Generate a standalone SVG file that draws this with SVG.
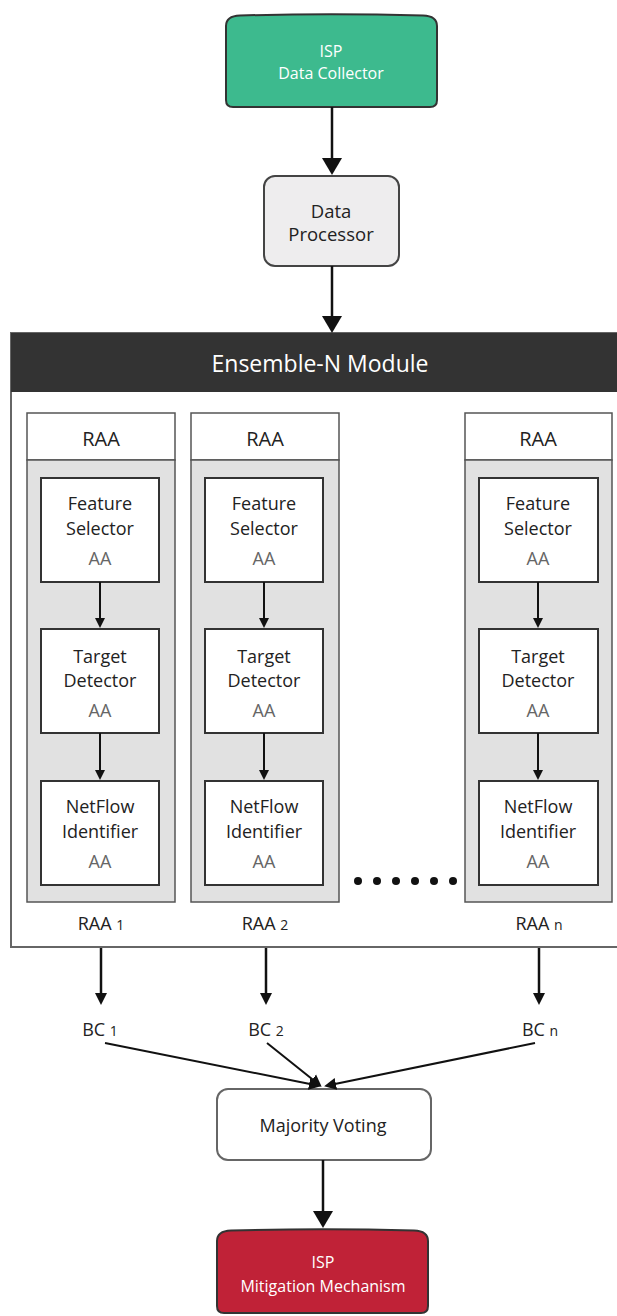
<svg xmlns="http://www.w3.org/2000/svg" width="617" height="1316" viewBox="0 0 617 1316">
<style>
text{font-family:"Open Sans","Liberation Sans",sans-serif;text-anchor:middle;fill:#222}
.w{fill:#fff}
.aa{fill:#666}
.hdr{fill:#fff;stroke:#555;stroke-width:1.5}
.body{fill:#e1e1e1;stroke:#555;stroke-width:1.5}
.inner{fill:#fff;stroke:#333;stroke-width:2}
.conn{stroke:#111;stroke-width:2.5;fill:none}
.thin{stroke:#111;stroke-width:2;fill:none}
.dot{fill:#111}
</style>
<defs>
<marker id="big" markerUnits="userSpaceOnUse" markerWidth="18" markerHeight="22" viewBox="0 0 18 22" refX="8" refY="11" orient="auto"><path d="M0,1 L17,11 L0,21 z" fill="#111"/></marker>
<marker id="mid" markerUnits="userSpaceOnUse" markerWidth="13" markerHeight="14" viewBox="0 0 13 14" refX="6" refY="7" orient="auto"><path d="M0,1 L12,7 L0,13 z" fill="#111"/></marker>
<marker id="sm" markerUnits="userSpaceOnUse" markerWidth="11" markerHeight="12" viewBox="0 0 11 12" refX="5" refY="6" orient="auto"><path d="M0,1 L10,6 L0,11 z" fill="#111"/></marker>
</defs>

<g id="collector">
<path d="M226,26 Q226,16 240,15.5 Q331,13 423,15.5 Q437,16 437,26 L437,100 Q437,107 430,107 L233,107 Q226,107 226,100 Z" fill="#3dba8e" stroke="#333" stroke-width="2"/>
<text class="w" x="331" y="57" font-size="16">ISP</text>
<text class="w" x="331" y="79" font-size="16">Data Collector</text>
</g>

<g id="processor">
<rect x="264" y="176" width="135" height="90" rx="11" fill="#eeedee" stroke="#444" stroke-width="2"/>
<text x="331" y="218" font-size="18.5">Data</text>
<text x="331" y="241" font-size="18.5">Processor</text>
</g>

<g id="ensemble">
<rect x="11" y="333" width="620" height="614" fill="#fff" stroke="#666" stroke-width="2"/>
<rect x="11" y="333" width="620" height="59" fill="#333"/>
<text class="w" x="320" y="372" font-size="23">Ensemble-N Module</text>
</g>

<g id="raa1">
<rect class="hdr" x="27" y="413" width="148" height="47"/>
<text x="101" y="446" font-size="20">RAA</text>
<rect class="body" x="27" y="460" width="148" height="442"/>
<rect class="inner" x="41" y="478" width="118" height="104"/>
<text x="100" y="510" font-size="18">Feature</text>
<text x="100" y="535" font-size="18">Selector</text>
<text class="aa" x="100" y="565" font-size="18">AA</text>
<rect class="inner" x="41" y="629" width="118" height="104"/>
<text x="100" y="663" font-size="18">Target</text>
<text x="100" y="687" font-size="18">Detector</text>
<text class="aa" x="100" y="717" font-size="18">AA</text>
<rect class="inner" x="41" y="781" width="118" height="104"/>
<text x="100" y="813" font-size="18">NetFlow</text>
<text x="100" y="838" font-size="18">Identifier</text>
<text class="aa" x="100" y="868" font-size="18">AA</text>
<text x="101" y="930" font-size="18">RAA <tspan font-size="14">1</tspan></text>
</g>

<g id="raa2">
<rect class="hdr" x="191" y="413" width="148" height="47"/>
<text x="265" y="446" font-size="20">RAA</text>
<rect class="body" x="191" y="460" width="148" height="442"/>
<rect class="inner" x="205" y="478" width="118" height="104"/>
<text x="264" y="510" font-size="18">Feature</text>
<text x="264" y="535" font-size="18">Selector</text>
<text class="aa" x="264" y="565" font-size="18">AA</text>
<rect class="inner" x="205" y="629" width="118" height="104"/>
<text x="264" y="663" font-size="18">Target</text>
<text x="264" y="687" font-size="18">Detector</text>
<text class="aa" x="264" y="717" font-size="18">AA</text>
<rect class="inner" x="205" y="781" width="118" height="104"/>
<text x="264" y="813" font-size="18">NetFlow</text>
<text x="264" y="838" font-size="18">Identifier</text>
<text class="aa" x="264" y="868" font-size="18">AA</text>
<text x="265" y="930" font-size="18">RAA <tspan font-size="14">2</tspan></text>
</g>

<g id="raan">
<rect class="hdr" x="465" y="413" width="147" height="47"/>
<text x="538" y="446" font-size="20">RAA</text>
<rect class="body" x="465" y="460" width="147" height="442"/>
<rect class="inner" x="479" y="478" width="119" height="104"/>
<text x="538" y="510" font-size="18">Feature</text>
<text x="538" y="535" font-size="18">Selector</text>
<text class="aa" x="538" y="565" font-size="18">AA</text>
<rect class="inner" x="479" y="629" width="119" height="104"/>
<text x="538" y="663" font-size="18">Target</text>
<text x="538" y="687" font-size="18">Detector</text>
<text class="aa" x="538" y="717" font-size="18">AA</text>
<rect class="inner" x="479" y="781" width="119" height="104"/>
<text x="538" y="813" font-size="18">NetFlow</text>
<text x="538" y="838" font-size="18">Identifier</text>
<text class="aa" x="538" y="868" font-size="18">AA</text>
<text x="539" y="930" font-size="18">RAA <tspan font-size="14">n</tspan></text>
</g>

<g id="dots">
<circle class="dot" cx="358" cy="881" r="4"/>
<circle class="dot" cx="377" cy="881" r="4"/>
<circle class="dot" cx="396" cy="881" r="4"/>
<circle class="dot" cx="415" cy="881" r="4"/>
<circle class="dot" cx="434" cy="881" r="4"/>
<circle class="dot" cx="453" cy="881" r="4"/>
</g>

<g id="bc-labels">
<text x="100" y="1036" font-size="18">BC <tspan font-size="14">1</tspan></text>
<text x="266" y="1036" font-size="18">BC <tspan font-size="14">2</tspan></text>
<text x="540" y="1036" font-size="18">BC <tspan font-size="14">n</tspan></text>
</g>

<g id="majority">
<rect x="217" y="1089" width="214" height="71" rx="11" fill="#fff" stroke="#666" stroke-width="2"/>
<text x="323" y="1132" font-size="18">Majority Voting</text>
</g>

<g id="mitigation">
<path d="M217,1241 Q217,1231 231,1230.5 Q323,1228 414,1230.5 Q428,1231 428,1241 L428,1306 Q428,1313 421,1313 L224,1313 Q217,1313 217,1306 Z" fill="#c02237" stroke="#333" stroke-width="2"/>
<text class="w" x="323" y="1268" font-size="16">ISP</text>
<text class="w" x="323" y="1292" font-size="16">Mitigation Mechanism</text>
</g>

<g id="connectors">
<line class="conn" x1="332" y1="107" x2="332" y2="166" marker-end="url(#big)"/>
<line class="conn" x1="332" y1="266" x2="332" y2="324" marker-end="url(#big)"/>
<line class="conn" x1="323" y1="1160" x2="323" y2="1219" marker-end="url(#big)"/>
<line class="thin" x1="100" y1="582" x2="100" y2="623" marker-end="url(#sm)"/>
<line class="thin" x1="100" y1="733" x2="100" y2="775" marker-end="url(#sm)"/>
<line class="thin" x1="264" y1="582" x2="264" y2="623" marker-end="url(#sm)"/>
<line class="thin" x1="264" y1="733" x2="264" y2="775" marker-end="url(#sm)"/>
<line class="thin" x1="538" y1="582" x2="538" y2="623" marker-end="url(#sm)"/>
<line class="thin" x1="538" y1="733" x2="538" y2="775" marker-end="url(#sm)"/>
<line class="conn" x1="101" y1="948" x2="101" y2="999" marker-end="url(#mid)"/>
<line class="conn" x1="266" y1="948" x2="266" y2="999" marker-end="url(#mid)"/>
<line class="conn" x1="539" y1="948" x2="539" y2="999" marker-end="url(#mid)"/>
<line class="thin" x1="105" y1="1043" x2="315" y2="1085" marker-end="url(#mid)"/>
<line class="thin" x1="267" y1="1043" x2="317" y2="1083" marker-end="url(#mid)"/>
<line class="thin" x1="535" y1="1043" x2="330" y2="1085" marker-end="url(#mid)"/>
</g>
</svg>
